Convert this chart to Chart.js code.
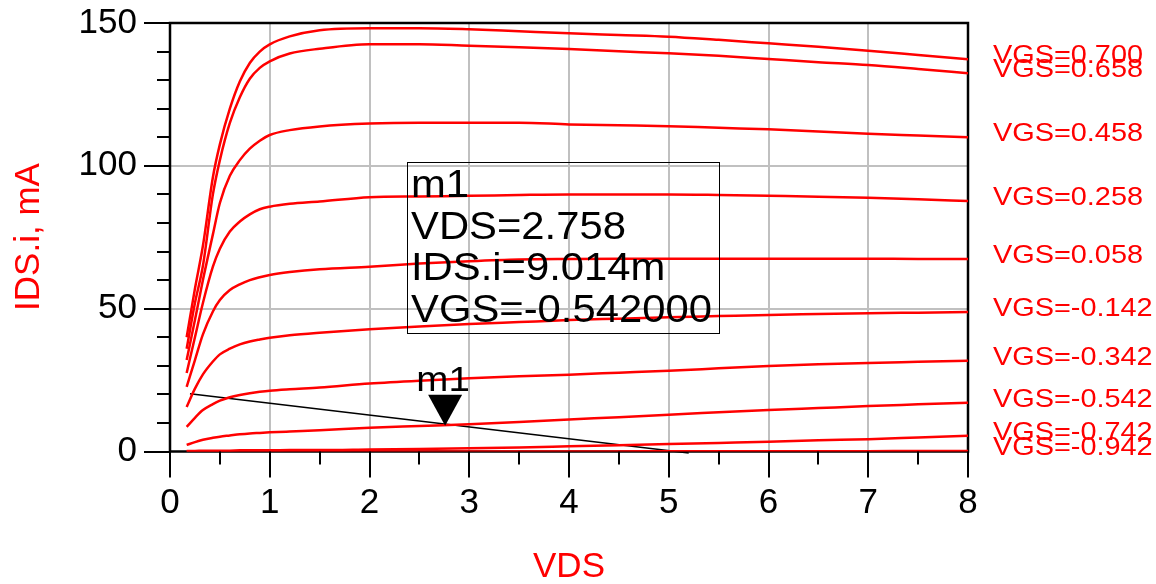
<!DOCTYPE html>
<html><head><meta charset="utf-8">
<script src="https://cdn.jsdelivr.net/npm/chart.js@4.4.1/dist/chart.umd.min.js"></script>
<style>html,body{margin:0;padding:0;background:#fff}#wrap{width:1156px;height:584px;position:relative}</style>
</head><body><div id="wrap"><canvas id="c"></canvas></div>
<script>
// ---- data ----
const vds = [0.167,0.25,0.33,0.43,0.5,0.6,0.7,0.8,0.9,1.0,1.2,1.5,2,2.5,3,3.5,4,4.5,5,5.5,6,6.5,7,7.5,8];
const vgs = [0.700,0.658,0.458,0.258,0.058,-0.142,-0.342,-0.542,-0.742,-0.942];
const ids_p0700 = [40,57,72,96,107.5,120,129.5,136,140,142.5,145.3,147.5,148.2,148.2,147.8,147.1,146.4,145.8,145.2,144.1,142.9,141.7,140.3,138.8,137.3];
const ids_p0658 = [36,52,65,90,102,115,124,130.5,134.3,136.6,139.3,141,142.6,142.6,142,141.5,140.9,140.1,139.4,138.5,137.4,136.3,135.3,133.9,132.4];
const ids_p0458 = [32,46,60,76,87,96.5,102,106,108.8,110.8,112.5,113.8,114.8,115.1,115.1,115.1,114.5,114.2,113.9,113.3,112.8,112,111.2,110.6,110];
const ids_p0258 = [27.5,40,52,64.7,71,77,80.5,83,84.8,85.7,86.7,87.5,89,89.3,89.5,89.8,90,90,90,89.8,89.5,89.2,88.8,88.3,87.7];
const ids_p0058 = [22.6,32,41,49,53,56.5,58.5,60,61,61.8,62.8,63.8,64.7,65.8,66.6,67.2,67.4,67.5,67.5,67.5,67.5,67.5,67.5,67.4,67.4];
const ids_m0142 = [15.6,22,27,31.5,34,36,37.5,38.5,39.2,39.8,40.7,41.6,42.8,43.8,44.6,45.3,46,46.5,47,47.4,47.8,48.1,48.4,48.6,48.8];
const ids_m0342 = [8.6,11.8,14.5,16.6,17.8,19,19.8,20.4,20.9,21.3,21.8,22.4,23.8,24.8,25.6,26.3,26.9,27.6,28.3,29.1,29.9,30.5,31,31.4,31.8];
const ids_m0542 = [2.3,3.3,4.1,4.8,5.2,5.6,6,6.3,6.5,6.7,7,7.4,8.3,8.9,9.5,10.3,11.2,12,12.9,13.7,14.5,15.2,15.9,16.5,17.1];
const ids_m0742 = [0.2,0.2,0.3,0.3,0.3,0.3,0.4,0.4,0.4,0.4,0.5,0.5,0.7,0.9,1.1,1.4,1.8,2.2,2.6,3,3.4,3.9,4.3,4.9,5.5];
const ids_m0942 = [0,0,0,0,0,0,0,0,0,0,0,0,0,0,0,0,0,0,0.1,0.1,0.1,0.1,0.1,0.2,0.2];
const idsSeries = [ids_p0700,ids_p0658,ids_p0458,ids_p0258,ids_p0058,ids_m0142,ids_m0342,ids_m0542,ids_m0742,ids_m0942];
const loadVds = [0.2, 5.2];
const loadIds = [20.2, -0.5];
const markerName = 'm1';
const markerVds = 2.758;
const markerIds = 9.014;
const markerVgs = -0.542;
const xTicks = [0,1,2,3,4,5,6,7,8];
const yTicks = [0,50,100,150];
const xTitle = 'VDS';
const yTitle = 'IDS.i, mA';

// ---- chart ----
const FONT = '"Liberation Sans", Arial, sans-serif';
const RED = '#ff0000';
const datasets = idsSeries.map((arr, i) => ({
  label: 'VGS=' + vgs[i].toFixed(3),
  data: vds.map((v, j) => ({x: v, y: arr[j]})),
  borderColor: RED, borderWidth: 2.5, pointRadius: 0, showLine: true,
  cubicInterpolationMode: 'monotone', fill: false
}));
datasets.push({
  label: 'load', data: loadVds.map((v, j) => ({x: v, y: loadIds[j]})),
  borderColor: '#000', borderWidth: 1.5, pointRadius: 0, showLine: true, clip: 6, fill: false
});

function sText(ctx, t, x, y, sx) {
  ctx.save(); ctx.translate(x, y); ctx.scale(sx, 1); ctx.fillText(t, 0, 0); ctx.restore();
}

const deco = {
  id: 'deco',
  beforeDatasetsDraw(chart) {
    const {ctx, chartArea: a} = chart;
    ctx.save();
    ctx.strokeStyle = '#000'; ctx.lineWidth = 2.5;
    ctx.strokeRect(a.left, a.top, a.right - a.left, a.bottom - a.top);
    ctx.restore();
  },
  afterDraw(chart) {
    const {ctx, chartArea: a, scales: {x: xs, y: ys}} = chart;
    ctx.save();
    // ticks
    ctx.strokeStyle = '#000'; ctx.lineWidth = 2;
    ctx.beginPath();
    for (let k = 0; k <= 16; k++) {
      const v = k / 2, px = Math.round(xs.getPixelForValue(v));
      const len = (k % 2 === 0) ? 26 : 13;
      ctx.moveTo(px, a.bottom); ctx.lineTo(px, a.bottom + len);
    }
    for (let k = 0; k <= 15; k++) {
      const v = k * 10, py = Math.round(ys.getPixelForValue(v));
      const len = (k % 5 === 0) ? 26 : 13;
      ctx.moveTo(a.left - len, py); ctx.lineTo(a.left, py);
    }
    ctx.stroke();
    // right labels
    ctx.fillStyle = RED; ctx.font = '26px ' + FONT; ctx.textAlign = 'left'; ctx.textBaseline = 'middle';
    idsSeries.forEach((arr, i) => {
      const py = ys.getPixelForValue(arr[arr.length - 1]) - 3;
      sText(ctx, 'VGS=' + vgs[i].toFixed(3), a.right + 25, py, 1.11);
    });
    // axis titles
    ctx.font = '35px ' + FONT; ctx.textAlign = 'center'; ctx.textBaseline = 'middle';
    ctx.fillText(xTitle, (a.left + a.right) / 2, 567);
    ctx.save(); ctx.translate(29, 237); ctx.rotate(-Math.PI / 2); ctx.fillText(yTitle, 0, 0); ctx.restore();
    // marker triangle
    const mx = xs.getPixelForValue(markerVds), my = ys.getPixelForValue(markerIds);
    ctx.fillStyle = '#000';
    ctx.beginPath(); ctx.moveTo(mx, my); ctx.lineTo(mx - 17, my - 31); ctx.lineTo(mx + 17, my - 31); ctx.closePath(); ctx.fill();
    ctx.font = '35px ' + FONT; ctx.textAlign = 'center'; ctx.textBaseline = 'alphabetic';
    sText(ctx, markerName, mx - 2, my - 35, 1.1);
    // marker box
    const bx = 407, by = 162, bw = 312, bh = 171;
    ctx.lineWidth = 1; ctx.strokeStyle = '#000';
    ctx.strokeRect(bx + 0.5, by + 0.5, bw, bh);
    ctx.font = '38px ' + FONT; ctx.textAlign = 'left';
    const lines = [markerName, 'VDS=' + markerVds.toFixed(3), 'IDS.i=' + markerIds.toFixed(3) + 'm', 'VGS=' + markerVgs.toFixed(6)];
    lines.forEach((t, i) => sText(ctx, t, bx + 4, by + 35 + i * 41.7, 1.1));
    ctx.restore();
  }
};

new Chart(document.getElementById('c'), {
  type: 'scatter',
  data: {datasets},
  options: {
    responsive: true, maintainAspectRatio: false, animation: false,
    layout: {padding: {top: 23, right: 188, left: 0, bottom: 0}},
    plugins: {legend: {display: false}, tooltip: {enabled: false}},
    scales: {
      x: {
        type: 'linear', min: 0, max: 8,
        afterBuildTicks: s => { s.ticks = xTicks.map(v => ({value: v})); },
        afterFit: s => { s.height = 132.5; s.paddingLeft = 0; s.paddingRight = 0; },
        grid: {color: c => (c.tick && (c.tick.value === 0 || c.tick.value === 8)) ? 'rgba(0,0,0,0)' : '#c0c0c0', lineWidth: 2, drawTicks: false},
        border: {display: false},
        ticks: {color: '#000', font: {family: FONT, size: 35}, padding: 31, maxRotation: 0}
      },
      y: {
        type: 'linear', min: 0, max: 150,
        afterBuildTicks: s => { s.ticks = yTicks.map(v => ({value: v})); },
        afterFit: s => { s.width = 170; s.paddingTop = 0; s.paddingBottom = 0; },
        grid: {color: c => (c.tick && (c.tick.value === 0 || c.tick.value === 150)) ? 'rgba(0,0,0,0)' : '#c0c0c0', lineWidth: 2, drawTicks: false},
        border: {display: false},
        ticks: {color: '#000', font: {family: FONT, size: 35}, padding: 33}
      }
    }
  },
  plugins: [deco]
});
</script>
</body></html>
